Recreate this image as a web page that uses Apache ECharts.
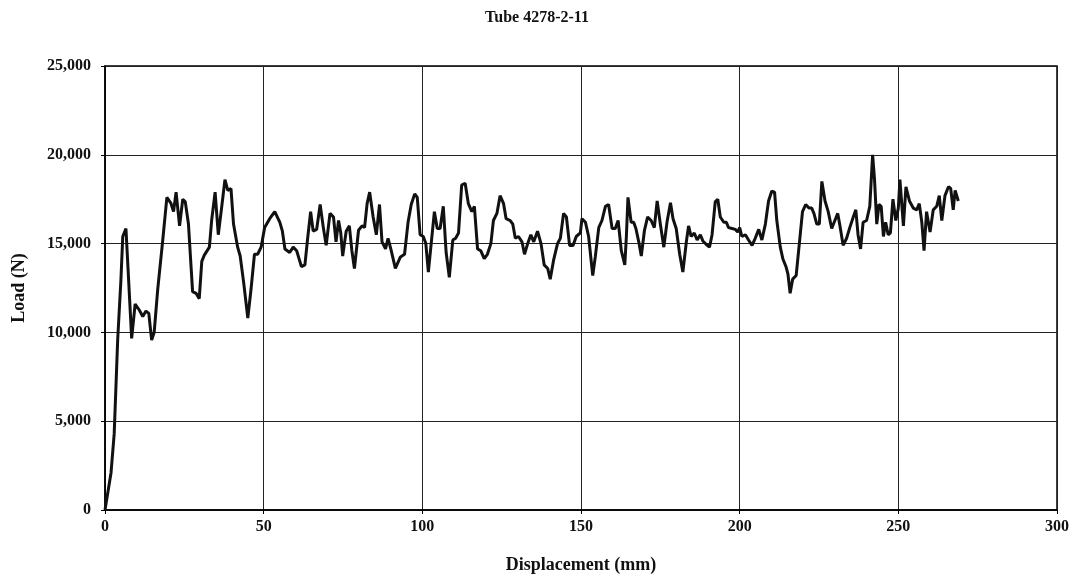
<!DOCTYPE html>
<html>
<head>
<meta charset="utf-8">
<title>Tube 4278-2-11</title>
<script src="https://cdn.jsdelivr.net/npm/echarts@6/dist/echarts.min.js"></script>
<style>
  html, body { margin: 0; padding: 0; background: #fff; }
  #chart { width: 1074px; height: 579px; }
</style>
</head>
<body>
<div id="chart"></div>
<script>
// displacement (mm)
var displacement = [
  0, 1.9, 2.9, 4.0, 5.0, 5.6, 6.6, 8.4, 9.5, 10.8,
  11.9, 12.9, 13.8, 14.7, 15.5, 16.6, 18.2, 19.5, 20.8, 21.6,
  22.4, 23.5, 24.5, 25.3, 26.3, 27.6, 28.7, 29.7, 30.5, 31.3,
  32.9, 33.6, 34.7, 35.7, 36.6, 37.8, 38.7, 39.7, 40.5, 41.8,
  42.6, 43.7, 45.0, 46.0, 47.1, 48.1, 49.2, 50.3, 51.9, 53.5,
  55.1, 55.9, 56.7, 58.2, 59.3, 60.4, 61.9, 63.0, 63.8, 64.8,
  65.6, 66.7, 67.8, 68.8, 69.7, 70.9, 72.0, 72.8, 73.6, 74.3,
  74.9, 76.0, 77.0, 77.8, 78.6, 79.9, 81.0, 81.8, 82.6, 83.4,
  84.5, 85.5, 86.5, 87.3, 88.4, 89.2, 90.2, 91.5, 93.1, 94.4,
  95.5, 96.5, 97.6, 98.4, 99.3, 100.3, 101.1, 101.9, 102.9, 103.8,
  104.7, 105.6, 106.6, 107.5, 108.5, 109.6, 110.5, 111.4, 112.4, 113.5,
  114.5, 115.6, 116.4, 117.4, 118.4, 119.5, 120.5, 121.6, 122.4, 123.5,
  124.5, 125.6, 126.4, 127.7, 128.5, 129.3, 130.3, 131.4, 132.2, 133.2,
  134.2, 135.1, 136.3, 137.4, 138.4, 139.5, 140.3, 141.4, 142.6, 143.5,
  144.5, 145.4, 146.4, 147.5, 148.5, 149.8, 150.3, 151.4, 152.4, 153.7,
  154.5, 155.6, 156.6, 157.7, 158.7, 159.8, 160.8, 161.7, 162.7, 163.8,
  164.3, 164.8, 165.8, 166.6, 167.3, 168.2, 169.0, 170.0, 171.0, 172.1,
  173.1, 174.0, 175.0, 176.1, 177.1, 178.2, 179.0, 180.0, 181.1, 182.1,
  183.2, 183.9, 184.7, 185.7, 186.6, 187.6, 188.4, 189.5, 190.5, 191.3,
  192.3, 193.1, 193.9, 195.0, 195.8, 196.5, 197.6, 198.6, 199.4, 200.0,
  200.7, 201.8, 202.8, 203.9, 204.9, 206.0, 207.0, 208.1, 209.1, 210.1,
  211.0, 211.7, 212.8, 213.6, 214.6, 215.2, 215.9, 216.7, 217.8, 218.8,
  219.8, 220.8, 221.9, 222.7, 223.4, 224.3, 225.1, 225.9, 226.9, 227.9,
  229.0, 230.0, 230.9, 231.6, 232.6, 233.7, 234.7, 235.8, 236.6, 237.3,
  238.1, 238.9, 240.0, 241.0, 241.9, 242.5, 243.2, 243.9, 244.6, 245.3,
  246.0, 246.8, 247.5, 248.3, 249.2, 250.0, 250.5, 251.6, 252.4, 253.5,
  254.7, 255.8, 256.6, 257.4, 258.1, 258.9, 260.0, 261.0, 262.1, 262.9,
  263.7, 264.7, 265.8, 266.5, 267.3, 267.9, 268.9
];

// load (N)
var load = [
  0, 2100, 4300, 9600, 12900, 15400, 15850, 9660, 11600, 11260,
  10900, 11200, 11070, 9570, 10000, 12400, 15200, 17600, 17260, 16800,
  17900, 16000, 17500, 17350, 16100, 12300, 12200, 11900, 14000, 14350,
  14800, 16300, 17900, 15500, 16800, 18600, 18000, 18100, 16100, 14800,
  14300, 12800, 10800, 12400, 14400, 14400, 14800, 15900, 16400, 16800,
  16200, 15700, 14700, 14500, 14800, 14600, 13700, 13800, 15200, 16800,
  15700, 15800, 17200, 15900, 14900, 16700, 16500, 15100, 16300, 15600,
  14300, 15700, 16000, 14600, 13600, 15750, 16000, 15900, 17250, 17900,
  16500, 15500, 17200, 15100, 14700, 15300, 14600, 13600, 14250, 14400,
  16200, 17200, 17800, 17600, 15500, 15400, 15000, 13400, 15200, 16800,
  15850, 15850, 17100, 14500, 13100, 15200, 15300, 15600, 18300, 18400,
  17250, 16800, 17100, 14700, 14600, 14150, 14400, 15000, 16300, 16700,
  17700, 17250, 16400, 16300, 16100, 15300, 15400, 15100, 14400, 15000,
  15500, 15100, 15700, 15000, 13800, 13600, 13000, 14100, 15000, 15300,
  16700, 16500, 14900, 14900, 15400, 15600, 16400, 16200, 15400, 13200,
  14250, 15900, 16300, 17100, 17200, 15850, 15850, 16300, 14600, 13800,
  15400, 17600, 16200, 16200, 15850, 15100, 14300, 15750, 16500, 16300,
  15900, 17400, 16100, 14800, 16200, 17300, 16400, 15850, 14400, 13400,
  15100, 16000, 15400, 15600, 15200, 15500, 15150, 14950, 14800, 15500,
  17350, 17500, 16500, 16200, 16200, 15900, 15850, 15800, 15650, 15900,
  15400, 15500, 15200, 14900, 15300, 15800, 15200, 16100, 17400, 17950,
  17900, 16300, 14800, 14150, 13700, 13300, 12200, 13000, 13200, 15000,
  16800, 17200, 17000, 17000, 16700, 16100, 16100, 18500, 17400, 16800,
  15850, 16300, 16700, 16000, 14900, 15300, 15900, 16500, 16900, 15500,
  14700, 16200, 16300, 17100, 20000, 18600, 16100, 17200, 17100, 15400,
  16200, 15500, 15600, 17500, 16300, 17000, 18600, 16000, 18200, 17400,
  17000, 16900, 17250, 16200, 14600, 16800, 15650, 16900, 17100, 17700,
  16300, 17700, 18200, 18100, 16900, 18000, 17400
];

var xTicks = [0, 50, 100, 150, 200, 250, 300];
var yTicks = [0, 5000, 10000, 15000, 20000, 25000];

var serif = '"Liberation Serif", "DejaVu Serif", serif';

var chart = echarts.init(document.getElementById('chart'));

var points = displacement.map(function (d, i) { return [d, load[i]]; });

var axisText = { color: '#111', fontFamily: serif, fontWeight: 'bold', fontSize: 16 };

chart.setOption({
  animation: false,
  backgroundColor: '#fff',
  title: {
    text: 'Tube 4278-2-11',
    left: 'center',
    top: 5,
    textStyle: { color: '#111', fontFamily: serif, fontWeight: 'bold', fontSize: 16 }
  },
  grid: {
    left: 105, right: 17, top: 66, bottom: 69,
    show: true, borderColor: '#000', borderWidth: 1.5
  },
  xAxis: {
    type: 'value',
    min: xTicks[0],
    max: xTicks[xTicks.length - 1],
    interval: 50,
    name: 'Displacement (mm)',
    nameLocation: 'middle',
    nameGap: 46,
    nameTextStyle: { color: '#111', fontFamily: serif, fontWeight: 'bold', fontSize: 18 },
    axisLine: { show: true, lineStyle: { color: '#000', width: 1.5 } },
    axisTick: { show: true, length: 4, lineStyle: { color: '#000' } },
    axisLabel: Object.assign({ margin: 9 }, axisText),
    splitLine: { show: true, lineStyle: { color: '#222', width: 1 } }
  },
  yAxis: {
    type: 'value',
    min: yTicks[0],
    max: yTicks[yTicks.length - 1],
    interval: 5000,
    name: 'Load (N)',
    nameLocation: 'middle',
    nameGap: 77,
    nameTextStyle: { color: '#111', fontFamily: serif, fontWeight: 'bold', fontSize: 18 },
    axisLine: { show: true, lineStyle: { color: '#000', width: 1.5 } },
    axisTick: { show: true, length: 4, lineStyle: { color: '#000' } },
    axisLabel: Object.assign({
      margin: 14,
      formatter: function (v) { return v.toLocaleString('en-US'); }
    }, axisText),
    splitLine: { show: true, lineStyle: { color: '#222', width: 1 } }
  },
  series: [{
    type: 'line',
    data: points,
    showSymbol: false,
    lineStyle: { color: '#111', width: 3 },
    emphasis: { disabled: true }
  }]
});
</script>
</body>
</html>
